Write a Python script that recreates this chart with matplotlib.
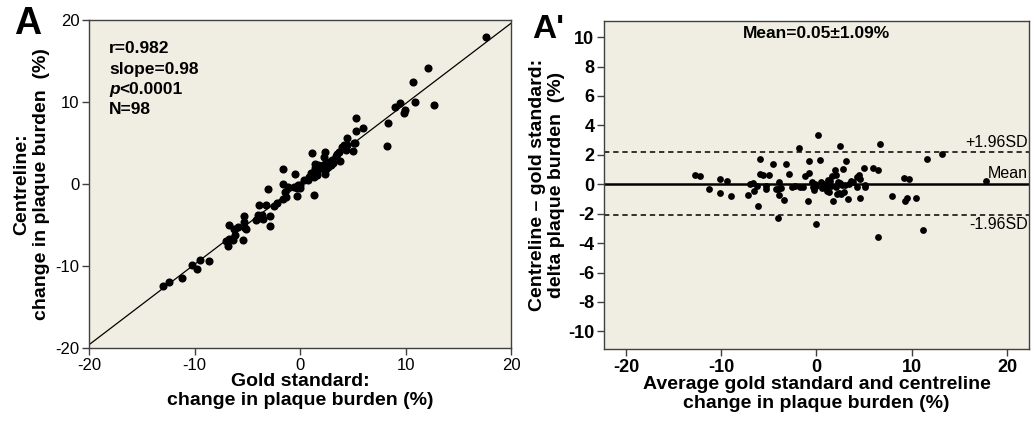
import matplotlib.pyplot as plt
from matplotlib.transforms import offset_copy

plt.rcParams['font.family'] = ['Liberation Sans', 'DejaVu Sans']
plt.rcParams['axes.unicode_minus'] = False

avg_change = [
    -12.7, -12.2, -11.3, -10.1, -10.1, -9.4, -9.0, -7.2, -7.0, -6.7,
    -6.6, -6.2, -6.1, -5.9, -5.9, -5.6, -5.3, -5.3, -5.0, -4.6,
    -4.3, -3.9, -4.0, -3.9, -3.7, -3.4, -4.0, -3.2, -2.9, -2.55,
    -1.8, -1.7, -1.45, -1.2, -0.92, -0.82, -0.75, -0.5, -0.4, -0.23,
    -0.1, 0.12, 0.0, 0.37, 0.47, 1.06, 1.16, 1.4, 1.76, 1.93,
    2.03, 2.28, 2.35, 2.45, 2.6, 2.88, 2.77, 3.13, 3.27, 3.41,
    3.8, 4.25, 4.5, 4.25, 4.6, 4.55, 5.05, 5.12, 5.02, 5.89,
    6.41, 6.41, 6.65, 7.88, 9.21, 9.29, 9.53, 9.70, 10.4, 11.13,
    11.62, 13.15, 17.76,
    -2.22, 0.82, 1.34, 1.55, 1.66, 2.15, 2.71, 1.0, 3.0, 3.6,
    0.6, 1.2, 2.0, 2.5, -0.2,
]
delta_change = [
    0.62, 0.53, -0.30, 0.37, -0.58, 0.24, -0.78, -0.76, 0.02, 0.07,
    -0.47, -0.15, -1.48, 1.72, 0.70, 0.60, -0.10, -0.31, 0.64, 1.35,
    -0.30, 0.15, -0.30, -0.73, -0.27, -1.10, -2.28, 1.39, 0.67, -0.19,
    2.48, -0.19, -0.19, 0.53, -1.17, 1.55, 0.78, 0.15, -0.19, -0.42,
    -0.15, 3.38, -2.68, 1.66, 0.15, -0.49, 0.26, 0.22, -1.17, 0.94,
    0.60, 0.15, -0.60, 2.57, -0.69, -0.53, 1.05, 1.55, -0.98, 0.04,
    0.15, 0.49, 0.60, -0.19, 0.37, -0.94, -0.08, -0.19, 1.12, 1.10,
    0.94, -3.59, 2.75, -0.83, 0.44, -1.16, -0.92, 0.37, -0.92, -3.10,
    1.73, 2.03, 0.24,
    -0.15, 0.03, -0.53, -0.12, 0.55, -0.65, -0.08, -0.10, -0.05, 0.20,
    -0.25, 0.05, -0.20, 0.10, 0.05,
]

# individual measurements behind each pair
gold = [a - d / 2 for a, d in zip(avg_change, delta_change)]
centre = [a + d / 2 for a, d in zip(avg_change, delta_change)]

r_value = 0.982
slope = 0.98
n_cases = 98
mean_diff = 0.05
sd_diff = 1.09

bg = '#f0eee2'
spine_col = '#404040'

fig = plt.figure(figsize=(10.33, 4.38), dpi=100)
ax1 = fig.add_axes([0.0862, 0.2055, 0.4085, 0.7489])
ax2 = fig.add_axes([0.5847, 0.2032, 0.4114, 0.7489])

for ax in (ax1, ax2):
    ax.set_facecolor(bg)
    for s in ax.spines.values():
        s.set_color(spine_col)
        s.set_linewidth(1.0)
    ax.tick_params(direction='out', length=5, width=1, color=spine_col,
                   labelsize=12, top=False, right=False, pad=2)

# --- panel A: scatter with regression line
ax1.scatter(gold, centre, s=34, color='black', zorder=3, linewidths=0)
ax1.axline((0, 0), slope=slope, color='black', lw=0.9, zorder=2)
ax1.set_xlim(-20, 20)
ax1.set_ylim(-20, 20)
ax1.set_xticks([-20, -10, 0, 10, 20])
ax1.set_yticks([-20, -10, 0, 10, 20])
ax1.set_xlabel('Gold standard:\nchange in plaque burden (%)',
               fontsize=14, fontweight='bold', linespacing=1.15, labelpad=0)
ax1.set_ylabel('Centreline:\nchange in plaque burden  (%)',
               fontsize=14, fontweight='bold', linespacing=1.15, labelpad=4)

tx, ty, step = 0.047, 0.935, 0.062
ax1.text(tx, ty, f'r={r_value}', transform=ax1.transAxes, fontsize=12.5,
         fontweight='bold', va='top')
ax1.text(tx, ty - step, f'slope={slope}', transform=ax1.transAxes,
         fontsize=12.5, fontweight='bold', va='top')
ax1.text(tx, ty - 2 * step, 'p', transform=ax1.transAxes, fontsize=12.5,
         fontweight='bold', fontstyle='italic', va='top')
ax1.text(tx, ty - 2 * step, '<0.0001', fontsize=12.5, fontweight='bold', va='top',
         transform=offset_copy(ax1.transAxes, fig=fig, x=7.6, units='points'))
ax1.text(tx, ty - 3 * step, f'N={n_cases}', transform=ax1.transAxes,
         fontsize=12.5, fontweight='bold', va='top')

# --- panel A': Bland-Altman
upper = mean_diff + 1.96 * sd_diff
lower = mean_diff - 1.96 * sd_diff
ax2.scatter(avg_change, delta_change, s=24, color='black', zorder=3, linewidths=0)
ax2.axhline(mean_diff, color='black', lw=1.8, zorder=2)
ax2.axhline(upper, color='black', lw=1.1, ls=(0, (3.5, 2.5)), zorder=2)
ax2.axhline(lower, color='black', lw=1.1, ls=(0, (3.5, 2.5)), zorder=2)
ax2.set_xlim(-22.3, 22.3)
ax2.set_ylim(-11.2, 11.1)
ax2.set_xticks([-20, -10, 0, 10, 20])
ax2.set_yticks(range(-10, 11, 2))
for lab in ax2.get_xticklabels() + ax2.get_yticklabels():
    lab.set_fontweight('bold')
    lab.set_fontsize(13)
ax2.set_xlabel('Average gold standard and centreline\nchange in plaque burden (%)',
               fontsize=14, fontweight='bold', linespacing=1.15, labelpad=0)
ax2.set_ylabel('Centreline \u2013 gold standard:\ndelta plaque burden  (%)',
               fontsize=14, fontweight='bold', linespacing=1.15, labelpad=2)

ax2.text(0.5, 0.985, f'Mean={mean_diff}\u00b1{sd_diff}%', transform=ax2.transAxes,
         ha='center', va='top', fontsize=12.5, fontweight='bold')
ax2.text(0.998, upper + 0.15, '+1.96SD', transform=ax2.get_yaxis_transform(),
         ha='right', va='bottom', fontsize=11.5)
ax2.text(0.998, mean_diff + 0.15, 'Mean', transform=ax2.get_yaxis_transform(),
         ha='right', va='bottom', fontsize=11.5)
ax2.text(0.998, lower - 0.15, '-1.96SD', transform=ax2.get_yaxis_transform(),
         ha='right', va='top', fontsize=11.5)

# panel letters
fig.text(0.014, 0.905, 'A', fontsize=27, fontweight='bold', va='bottom')
fig.text(0.515, 0.898, "A'", fontsize=24, fontweight='bold', va='bottom')

fig.savefig('out.png', dpi=100, facecolor='white')
